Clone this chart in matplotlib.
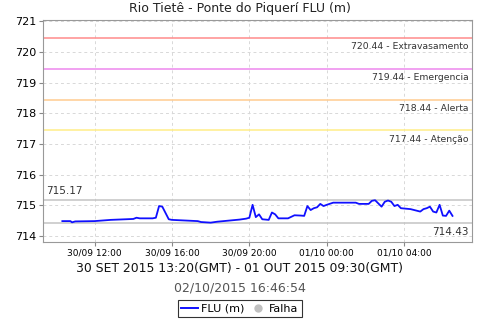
import matplotlib
matplotlib.use("Agg")
import matplotlib.pyplot as plt
import matplotlib.dates as mdates
from matplotlib.lines import Line2D
import pandas as pd

# leituras (hora local) e nível em metros
times = ["09-30 10:20", "09-30 10:45", "09-30 10:50", "09-30 11:00", "09-30 12:00",
         "09-30 12:50", "09-30 14:00", "09-30 14:10", "09-30 14:20", "09-30 15:00",
         "09-30 15:10", "09-30 15:20", "09-30 15:30", "09-30 15:50", "09-30 16:00",
         "09-30 17:20", "09-30 17:30", "09-30 18:00", "09-30 18:20", "09-30 19:00",
         "09-30 19:30", "09-30 19:50", "09-30 20:00", "09-30 20:10", "09-30 20:20",
         "09-30 20:30", "09-30 20:40", "09-30 21:00", "09-30 21:10", "09-30 21:20",
         "09-30 21:30", "09-30 22:00", "09-30 22:20", "09-30 22:40", "09-30 22:50",
         "09-30 23:00", "09-30 23:10", "09-30 23:20", "09-30 23:30", "09-30 23:40",
         "09-30 23:50", "10-01 00:00", "10-01 00:20", "10-01 01:30", "10-01 01:40",
         "10-01 02:10", "10-01 02:20", "10-01 02:30", "10-01 02:50", "10-01 03:00",
         "10-01 03:10", "10-01 03:20", "10-01 03:30", "10-01 03:40", "10-01 03:50",
         "10-01 04:20", "10-01 04:50", "10-01 05:00", "10-01 05:10", "10-01 05:20",
         "10-01 05:30", "10-01 05:40", "10-01 05:50", "10-01 06:00", "10-01 06:10",
         "10-01 06:20", "10-01 06:30"]
levels = [714.49, 714.49, 714.45, 714.48, 714.49,
          714.53, 714.56, 714.60, 714.58, 714.58,
          714.60, 714.98, 714.96, 714.55, 714.53,
          714.49, 714.46, 714.44, 714.47, 714.51,
          714.54, 714.57, 714.60, 715.02, 714.62,
          714.71, 714.55, 714.53, 714.77, 714.71,
          714.58, 714.58, 714.68, 714.67, 714.66,
          714.98, 714.85, 714.91, 714.94, 715.05,
          714.98, 715.02, 715.09, 715.09, 715.05,
          715.05, 715.15, 715.17, 714.96, 715.12,
          715.16, 715.12, 714.98, 715.02, 714.91,
          714.88, 714.80, 714.88, 714.91, 714.96,
          714.80, 714.77, 715.02, 714.67, 714.66,
          714.83, 714.66]

limit_values = [720.44, 719.44, 718.44, 717.44]
limit_names = ["Extravasamento", "Emergencia", "Alerta", "Atenção"]
limit_colors = ["#ff8c8c", "#ee88ee", "#ffcc90", "#ffee88"]

level_max = 715.17
level_min = 714.43

t = pd.to_datetime(["2015-" + s for s in times])

fig = plt.figure(figsize=(4.8, 3.2), dpi=100)
ax = fig.add_axes([0.0896, 0.2447, 0.8934, 0.6943])

ax.set_xlim(pd.Timestamp("2015-09-30 09:20"), pd.Timestamp("2015-10-01 07:30"))
ax.set_ylim(713.82, 721.05)

ax.grid(True, color="#d8d8d8", linestyle=(0, (3, 3)), linewidth=0.7)
ax.set_axisbelow(True)

for v, name, c in zip(limit_values, limit_names, limit_colors):
    ax.axhline(v, color=c, lw=1.1)
    ax.annotate(f"{v:.2f} - {name}", xy=(0.992, v), xycoords=("axes fraction", "data"),
                xytext=(0, -3), textcoords="offset points", ha="right", va="top",
                fontsize=6.7, color="#333333")

ax.axhline(level_max, color="#c4c4c4", lw=1.1)
ax.axhline(level_min, color="#c4c4c4", lw=1.1)
ax.annotate(f"{level_max:.2f}", xy=(0.008, level_max), xycoords=("axes fraction", "data"),
            xytext=(0, 3), textcoords="offset points", ha="left", va="bottom",
            fontsize=7.5, color="#333333")
ax.annotate(f"{level_min:.2f}", xy=(0.992, level_min), xycoords=("axes fraction", "data"),
            xytext=(0, -3), textcoords="offset points", ha="right", va="top",
            fontsize=7.5, color="#333333")

ax.plot(t, levels, color="#1010ff", lw=1.3)

ax.xaxis.set_major_locator(mdates.HourLocator(byhour=[0, 4, 12, 16, 20]))
ax.xaxis.set_major_formatter(mdates.DateFormatter("%d/%m %H:%M"))
ax.set_yticks(range(714, 722))
ax.tick_params(axis="x", labelsize=6.5, length=3, color="#888888", pad=2)
ax.tick_params(axis="y", labelsize=8, length=3, color="#888888", pad=2)
for s in ax.spines.values():
    s.set_color("#999999")

fig.text(0.5, 0.972, "Rio Tietê - Ponte do Piquerí FLU (m)", ha="center", va="center",
         fontsize=9, color="#222222")
fig.text(0.5, 0.160, "30 SET 2015 13:20(GMT) - 01 OUT 2015 09:30(GMT)", ha="center",
         va="center", fontsize=8.9, color="#111111")
fig.text(0.5, 0.100, "02/10/2015 16:46:54", ha="center", va="center", fontsize=9,
         color="#555555")

handles = [Line2D([], [], color="#1010ff", lw=1.4),
           Line2D([], [], color="#c0c0c0", marker="o", ls="none", markersize=5)]
leg = fig.legend(handles, ["FLU (m)", "Falha"], loc="center", bbox_to_anchor=(0.5, 0.035),
                 ncol=2, fontsize=8, frameon=True, fancybox=False, handlelength=1.5,
                 handletextpad=0.3, columnspacing=0.4, borderpad=0.3)
leg.get_frame().set_edgecolor("black")
leg.get_frame().set_linewidth(0.8)

fig.savefig("out.png", dpi=100)
